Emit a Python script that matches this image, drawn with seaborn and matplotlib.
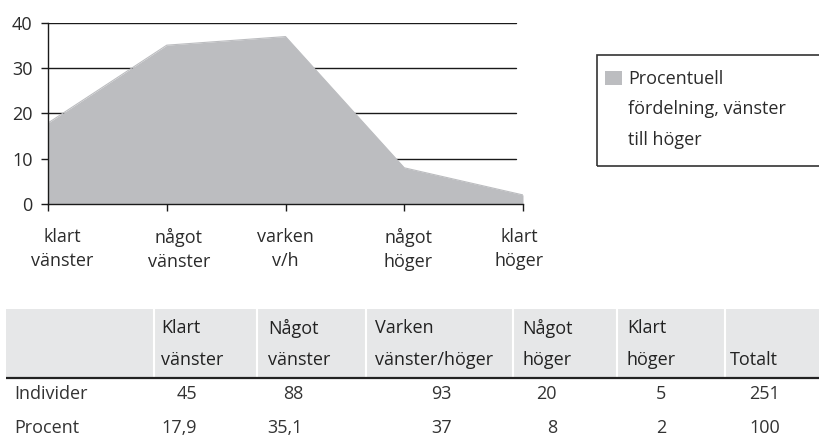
import matplotlib
matplotlib.use('Agg')
import matplotlib.pyplot as plt
import pandas as pd
import seaborn as sns
from matplotlib.patches import Patch, Rectangle
from matplotlib.transforms import ScaledTranslation

categories = ['klart\nvänster', 'något\nvänster', 'varken\nv/h', 'något\nhöger', 'klart\nhöger']
table_headers = ['Klart\nvänster', 'Något\nvänster', 'Varken\nvänster/höger', 'Något\nhöger', 'Klart\nhöger', 'Totalt']
row_labels = ['Individer', 'Procent']
individer = [45, 88, 93, 20, 5]
procent = [17.9, 35.1, 37, 8, 2]
y_ticks = [0, 10, 20, 30, 40]
legend_lines = ['Procentuell', 'fördelning, vänster', 'till höger']

df = pd.DataFrame({'pos': range(len(categories)), 'procent': procent})

sns.set_theme(style='white')
plt.rcParams['font.family'] = ['Open Sans', 'DejaVu Sans']

fs = 13
area_color = '#bcbdc0'
text_color = '#2b2b2b'
line_color = '#1a1a1a'

W, H = 819, 444
fig = plt.figure(figsize=(W / 100, H / 100), dpi=100)


def fx(px):
    return px / W


def fy(py):
    return 1 - py / H


# table below the chart, drawn in pixel coordinates
tab = fig.add_axes([0, 0, 1, 1])
tab.set_xlim(0, W)
tab.set_ylim(H, 0)
tab.axis('off')
tab.patch.set_visible(False)

tab.add_patch(Rectangle((6, 309), W - 6, 69, fc='#e6e7e8', ec='none'))
tab.vlines([154, 257, 366, 513, 617, 725], 309, 378, color='white', lw=1.5)
tab.hlines(378, 6, W, color='#222222', lw=1.6)

header_x = [161, 268, 375, 522, 627, 730]
for x, h in zip(header_x, table_headers):
    parts = h.split('\n')
    if len(parts) == 1:
        parts = ['', parts[0]]
    tab.text(x, 328, parts[0], ha='left', va='center', fontsize=fs, color='#222222')
    tab.text(x, 360, parts[1], ha='left', va='center', fontsize=fs, color='#222222')


def fmt(v):
    return f'{v:g}'.replace('.', ',')


rows = [individer + [sum(individer)], procent + [round(sum(procent))]]
value_right = [197, 303, 452, 557, 666, 780]
for y, label, vals in zip([394, 428], row_labels, rows):
    tab.text(14, y, label, ha='left', va='center', fontsize=fs, color='#333333')
    for x, v in zip(value_right, vals):
        tab.text(x, y, fmt(v), ha='right', va='center', fontsize=fs, color='#333333')

# area chart
ax = fig.add_axes([fx(48), fy(204), fx(523) - fx(48), fy(23) - fy(204)])
ax.patch.set_visible(False)
ax.fill_between(df['pos'], df['procent'], color=area_color, lw=0, zorder=2)
sns.lineplot(data=df, x='pos', y='procent', color=area_color, lw=0.8, ax=ax, zorder=2)
for t in y_ticks[1:]:
    ax.axhline(t, xmin=0, xmax=0.985, color=line_color, lw=1, zorder=1)

ax.set_xlim(0, len(categories) - 1)
ax.set_ylim(y_ticks[0], y_ticks[-1])
ax.set_xticks(df['pos'])
ax.set_xticklabels(categories, linespacing=1.4)
ax.set_yticks(y_ticks)
ax.set_xlabel('')
ax.set_ylabel('')
sns.despine(ax=ax)
for s in ['left', 'bottom']:
    ax.spines[s].set_color(line_color)
    ax.spines[s].set_linewidth(1)
ax.tick_params(axis='both', bottom=True, left=True, direction='out', length=5, width=1,
               color=line_color, labelsize=fs, labelcolor=text_color)
ax.tick_params(axis='x', pad=12.5)
ax.tick_params(axis='y', pad=6)

shifts = [14, 12, 0, 4, -4]
for lab, dx in zip(ax.get_xticklabels(), shifts):
    lab.set_transform(lab.get_transform() + ScaledTranslation(dx / 100, 0, fig.dpi_scale_trans))

# legend with box
fig.add_artist(Rectangle((fx(597), fy(166)), fx(830) - fx(597), fy(55) - fy(166),
                         transform=fig.transFigure, fill=False, ec='#333333', lw=1.2))
handles = [Patch(fc=area_color, ec='none'), Patch(fc='none', ec='none'), Patch(fc='none', ec='none')]
fig.legend(handles, legend_lines, loc='upper left', bbox_to_anchor=(fx(605), fy(70)),
           frameon=False, fontsize=fs, handlelength=0.95, handleheight=0.85,
           handletextpad=0.35, labelspacing=0.68, borderpad=0, borderaxespad=0,
           labelcolor=text_color)

fig.savefig('out.png', dpi=100)
